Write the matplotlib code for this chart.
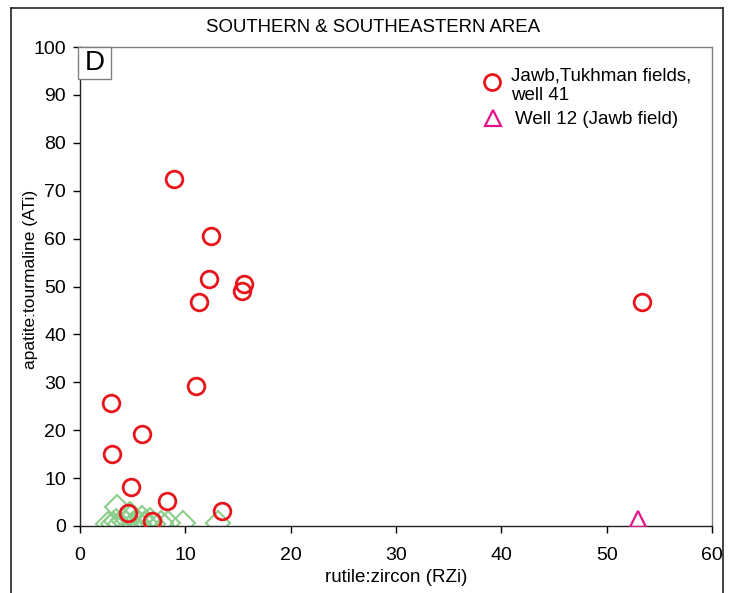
import matplotlib
matplotlib.use("Agg")
import matplotlib.pyplot as plt
from matplotlib.lines import Line2D
from matplotlib.patches import Rectangle

plt.rcParams['font.family'] = ['Liberation Sans', 'DejaVu Sans']

# Jawb, Tukhman fields, well 41 (red circles)
rzi_jawb = [8.9, 12.4, 12.2, 15.6, 15.4, 11.3, 53.4, 11.0, 2.9, 5.9, 3.0, 4.8, 8.3, 13.5, 4.6, 6.8]
ati_jawb = [72.5, 60.5, 51.5, 50.5, 49.1, 46.7, 46.7, 29.3, 25.7, 19.2, 15.0, 8.1, 5.3, 3.1, 2.7, 1.0]

# Well 12 (Jawb field) (magenta triangle)
rzi_well12 = [53.0]
ati_well12 = [1.5]

# Comparison samples (green diamonds)
rzi_other = [3.5, 2.7, 3.1, 3.8, 4.4, 5.0, 5.6, 6.2, 6.9, 7.7, 8.4, 9.8, 13.1, 4.7, 5.9, 4.1, 6.6, 5.3, 3.4]
ati_other = [4.0, 0.5, 0.5, 0.5, 0.6, 0.5, 0.5, 0.6, 0.5, 0.6, 0.6, 0.6, 0.6, 2.6, 1.6, 1.2, 1.2, 1.0, 1.1]

x_ticks = [0, 10, 20, 30, 40, 50, 60]
y_ticks = [0, 10, 20, 30, 40, 50, 60, 70, 80, 90, 100]

legend_labels = ['Jawb,Tukhman fields,\nwell 41', 'Well 12 (Jawb field)']

W, H = 735, 593
fig = plt.figure(figsize=(W / 100, H / 100), dpi=100)
ax = fig.add_axes([80 / W, 1 - 526 / H, (712 - 80) / W, (526 - 47) / H])

green = '#8ccf8c'
red = '#e8161c'
magenta = '#e4138c'

ax.plot(rzi_other, ati_other, linestyle='none', marker='D', markersize=12,
        markerfacecolor='none', markeredgecolor=green, markeredgewidth=1.5, zorder=2)
ax.plot(rzi_jawb, ati_jawb, linestyle='none', marker='o', markersize=12,
        markerfacecolor='none', markeredgecolor=red, markeredgewidth=2.0, zorder=3)
ax.plot(rzi_well12, ati_well12, linestyle='none', marker='^', markersize=12,
        markerfacecolor='none', markeredgecolor=magenta, markeredgewidth=1.6, zorder=3)

ax.set_xlim(0, 60)
ax.set_ylim(0, 100)
ax.set_xticks(x_ticks)
ax.set_yticks(y_ticks)
ax.tick_params(direction='out', length=5, width=1, labelsize=14, colors='black')
ax.tick_params(axis='x', pad=10)
ax.tick_params(axis='y', pad=5)

for side in ('left', 'bottom'):
    ax.spines[side].set_color('#222222')
    ax.spines[side].set_linewidth(1.0)
for side in ('top', 'right'):
    ax.spines[side].set_color('#808080')
    ax.spines[side].set_linewidth(1.0)

ax.set_xlabel('rutile:zircon (RZi)', fontsize=13.5, labelpad=4)
ax.set_ylabel('apatite:tourmaline (ATi)', fontsize=12.5, labelpad=8)
ax.yaxis.set_label_coords(-0.066, (526 - 279) / 479)

fig.text(373 / W, 1 - 28 / H, 'SOUTHERN & SOUTHEASTERN AREA', ha='center', va='center', fontsize=13.4)

# panel letter in its own box
def ax_xy(px, py):
    return (px - 80) / 632, (526 - py) / 479

bx0, by0 = ax_xy(78, 79)
bx1, by1 = ax_xy(111, 47)
ax.add_patch(Rectangle((bx0, by0), bx1 - bx0, by1 - by0, transform=ax.transAxes, clip_on=False,
                       facecolor='white', edgecolor='#808080', linewidth=1.0, zorder=4))
ax.text(*ax_xy(94.5, 63), 'D', transform=ax.transAxes, ha='center', va='center', fontsize=20, zorder=5)

# legend entries
ax.plot(*ax_xy(492, 82), transform=ax.transAxes, linestyle='none', marker='o', markersize=11.5,
        markerfacecolor='none', markeredgecolor=red, markeredgewidth=2.0, clip_on=False)
ax.text(*ax_xy(511, 86), legend_labels[0], transform=ax.transAxes, ha='left', va='center',
        fontsize=13.5, linespacing=1.2)
ax.plot(*ax_xy(493, 118), transform=ax.transAxes, linestyle='none', marker='^', markersize=11.5,
        markerfacecolor='none', markeredgecolor=magenta, markeredgewidth=1.6, clip_on=False)
ax.text(*ax_xy(515, 120), legend_labels[1], transform=ax.transAxes, ha='left', va='center',
        fontsize=13.5)

# outer frame around the panel
frame_kw = dict(color='#222222', linewidth=1.2, transform=fig.transFigure, clip_on=False)
x0, x1, y_top = 11 / W, 723 / W, 1 - 8 / H
fig.add_artist(Line2D([x0, x0], [0, y_top], **frame_kw))
fig.add_artist(Line2D([x1, x1], [0, y_top], **frame_kw))
fig.add_artist(Line2D([x0, x1], [y_top, y_top], **frame_kw))

fig.savefig('out.png', dpi=100)
